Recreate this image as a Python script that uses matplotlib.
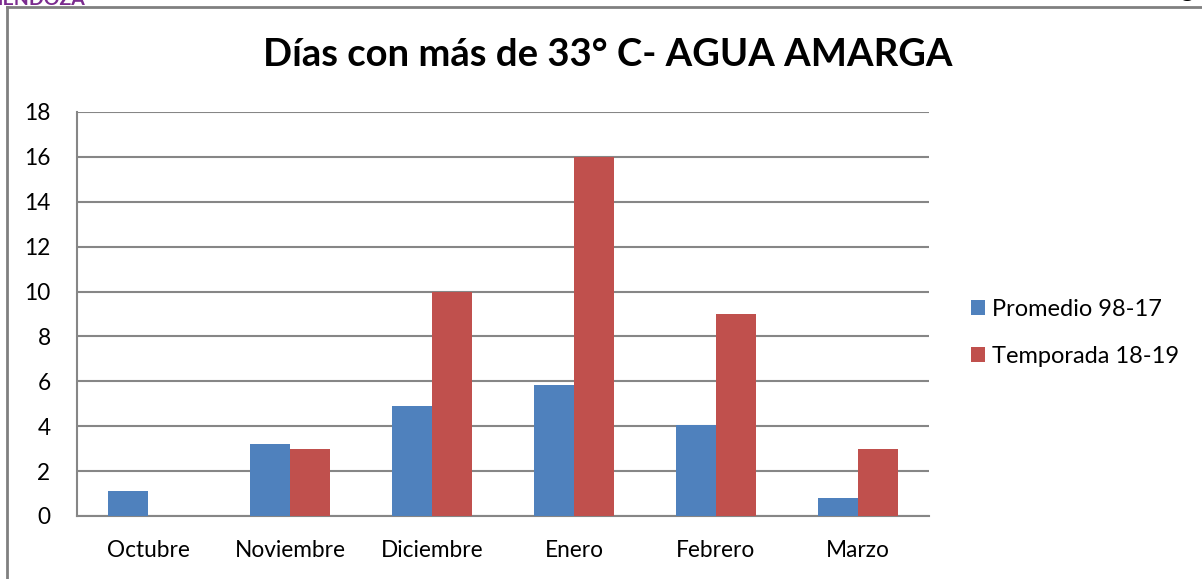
import matplotlib
matplotlib.use("Agg")
import matplotlib.pyplot as plt
from matplotlib.lines import Line2D
import numpy as np

plt.rcParams['font.family'] = ['Lato', 'DejaVu Sans']

categories = ["Octubre", "Noviembre", "Diciembre", "Enero", "Febrero", "Marzo"]
promedio = [1.1, 3.2, 4.9, 5.85, 4.05, 0.8]
temporada = [0, 3, 10, 16, 9, 3]
series_names = ["Promedio 98-17", "Temporada 18-19"]
yticks = [0, 2, 4, 6, 8, 10, 12, 14, 16, 18]
title = "Días con más de 33° C- AGUA AMARGA"

blue = "#4F81BD"
red = "#C0504D"
grid = "#868686"

fig = plt.figure(figsize=(12.02, 5.79), dpi=100)
ax = fig.add_axes([77/1202, 1-516/579, (929-77)/1202, (516-112)/579])

x = np.arange(len(categories))
w = 0.285
b1 = ax.bar(x - w/2, promedio, w, color=blue, label=series_names[0], zorder=3)
b2 = ax.bar(x + w/2, temporada, w, color=red, label=series_names[1], zorder=3)

ax.set_xlim(-0.5, len(categories) - 0.5)
ax.set_ylim(0, 18)
ax.set_yticks(yticks)
ax.set_xticks(x)
ax.set_xticklabels(categories)
ax.yaxis.grid(True, color=grid, linewidth=1.5, zorder=0)
ax.set_axisbelow(True)
for s in ["top", "right"]:
    ax.spines[s].set_visible(False)
for s in ["left", "bottom"]:
    ax.spines[s].set_color(grid)
    ax.spines[s].set_linewidth(1.5)
ax.tick_params(axis='both', length=0, labelsize=16.3, colors="black")
ax.tick_params(axis='y', pad=19)
ax.tick_params(axis='x', pad=17)

fig.text(608/1202, 1-55/579, title, ha='center', va='center',
         fontsize=27.5, fontweight='bold')

leg = fig.legend(handles=[b1, b2], loc='center left',
                 bbox_to_anchor=(950/1202, 1-333/579), frameon=False,
                 fontsize=17, handlelength=0.6, handleheight=0.6,
                 handletextpad=0.3, labelspacing=1.1)

# page frame lines and clipped header text
fig.add_artist(Line2D([7/1202, 1], [1-7/579, 1-7/579], color="#808080", linewidth=2))
fig.add_artist(Line2D([7/1202, 7/1202], [0, 1-7/579], color="#808080", linewidth=2))
fig.text(-16/1202, 1-5/579, "MENDOZA", ha='left', va='baseline', fontsize=14,
         fontweight='bold', color="#7B2C8F")
fig.text(1180/1202, 1+3/579, "g", ha='left', va='baseline', fontsize=18,
         fontweight='bold', color="black")

fig.savefig("out.png", dpi=100)
